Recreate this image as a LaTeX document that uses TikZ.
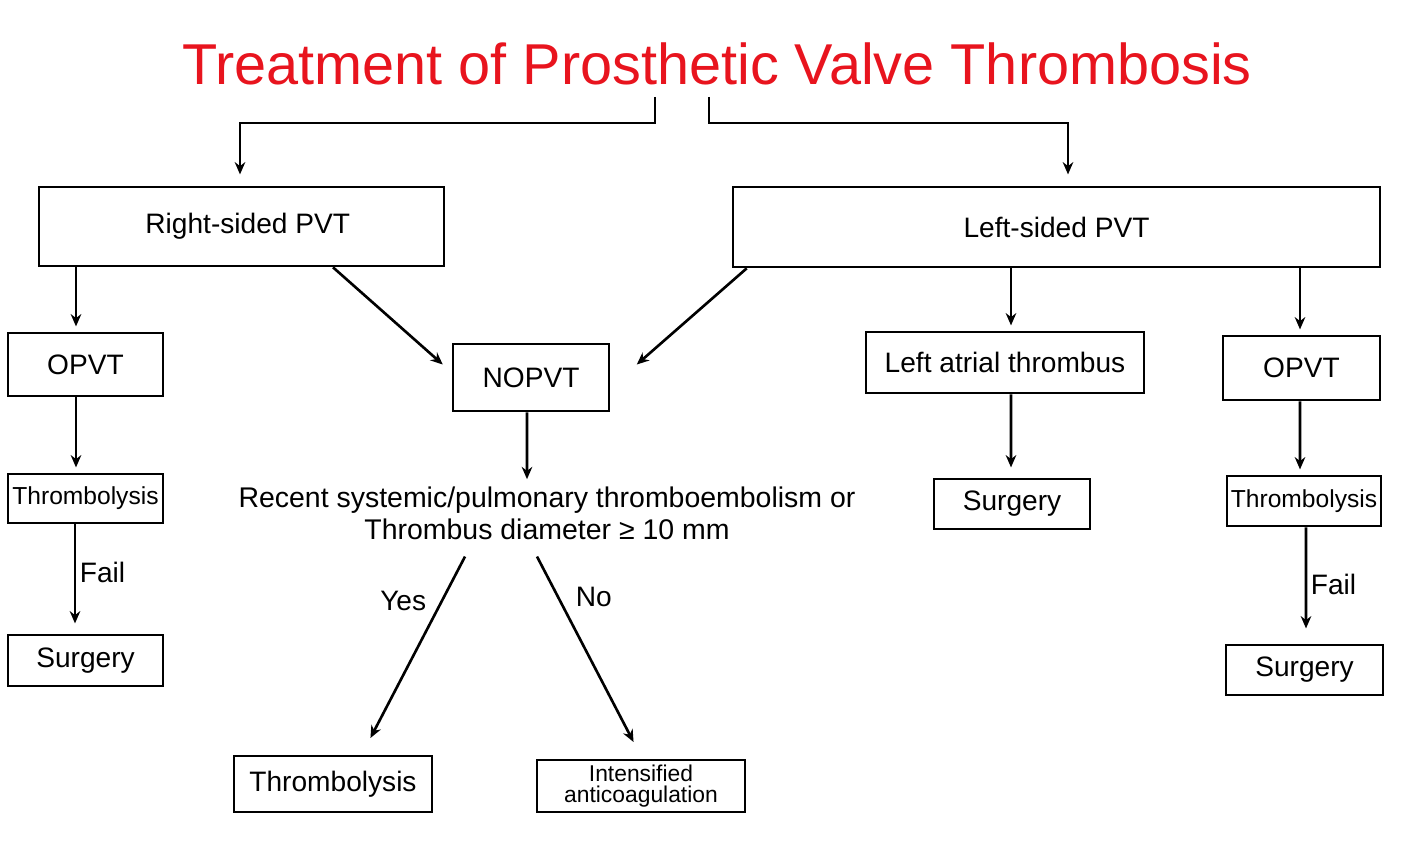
\documentclass[tikz,border=0pt]{standalone}
\usepackage{fontspec}
\setmainfont{Liberation Sans}
\usepackage{xcolor}
\definecolor{pvtred}{HTML}{E8141E}
\usetikzlibrary{arrows.meta,positioning,calc}

\begin{document}
\begin{tikzpicture}[x=0.02cm,y=-0.02cm,
  box/.style={draw,line width=1.5pt,inner sep=0pt,font=\fontsize{16}{19}\selectfont},
  smallbox/.style={box,font=\fontsize{14}{16}\selectfont},
  arr/.style={line width=1.5pt,-{Stealth[length=7pt,width=6pt]},shorten >=3pt},
  lbl/.style={inner sep=1pt,font=\fontsize{16}{19}\selectfont}]
\useasboundingbox (0,0) rectangle (1417,844);
\node[text=pvtred,font=\fontsize{32.8}{36}\selectfont] (title) at (717,64) {Treatment of Prosthetic Valve Thrombosis};
\coordinate (tl) at (655,97);
\coordinate (tr) at (709,97);
\node[box,minimum width=8.1cm,minimum height=1.58cm] (rpvt) at (241.5,226.5) {\hspace{0.25cm}Right-sided PVT};
\node[box,minimum width=12.94cm,minimum height=1.6cm] (lpvt) at (1056.5,227) {Left-sided PVT};
\node[box,minimum width=3.1cm,minimum height=1.26cm] (lopvt) at (85.5,364.5) {OPVT\hspace{0.2cm}};
\node[smallbox,minimum width=3.1cm,minimum height=0.98cm] (lthr) at (85.5,498.5) {Thrombolysis};
\node[box,minimum width=3.1cm,minimum height=1.02cm] (lsurg) at (85.5,660.5) {Surgery};
\node[box,minimum width=3.12cm,minimum height=1.34cm] (nopvt) at (531,377.5) {NOPVT};
\node[lbl,align=center,font=\fontsize{16.2}{18.2}\selectfont] (crit) at (547,513) {Recent systemic/pulmonary thromboembolism or\\Thrombus diameter ≥ 10 mm};
\node[box,minimum width=3.96cm,minimum height=1.12cm] (ythr) at (333,784) {Thrombolysis};
\node[box,minimum width=4.16cm,minimum height=1.04cm,align=center,font=\fontsize{13}{12}\selectfont] (anti) at (641,786) {Intensified\\anticoagulation};
\node[box,minimum width=5.56cm,minimum height=1.22cm] (latr) at (1005,362.5) {Left atrial thrombus};
\node[box,minimum width=3.12cm,minimum height=1cm] (msurg) at (1012,504) {Surgery};
\node[box,minimum width=3.14cm,minimum height=1.28cm] (ropvt) at (1301.5,368) {OPVT};
\node[smallbox,minimum width=3.08cm,minimum height=1cm] (rthr) at (1304,501) {Thrombolysis};
\node[box,minimum width=3.14cm,minimum height=1cm] (rsurg) at (1304.5,670) {Surgery};

\draw[arr] (tl) -- ++(0,26) -| ([xshift=-0.03cm,yshift=0.12cm]rpvt.north);
\draw[arr] (tr) -- ++(0,26) -| ([xshift=0.23cm,yshift=0.12cm]lpvt.north);
\draw[arr] ([xshift=-0.19cm]lopvt.north |- rpvt.south) -- ([xshift=-0.19cm]lopvt.north);
\draw[arr] ([xshift=-0.19cm]lopvt.south) -- ([xshift=-0.19cm]lthr.north);
\draw[arr] ([xshift=-0.21cm]lthr.south) -- node[lbl,pos=0.46,right=1pt] {Fail} ([xshift=-0.21cm,yshift=0.1cm]lsurg.north);
\draw[arr] ([xshift=1.83cm]rpvt.south) -- ([xshift=-0.1cm,yshift=0.19cm]nopvt.west);
\draw[arr] ([xshift=0.3cm]lpvt.south west) -- ([xshift=0.45cm,yshift=0.19cm]nopvt.east);
\draw[arr] ([xshift=-0.08cm]nopvt.south) -- ([xshift=-0.4cm]crit.north);
\draw[arr] ([xshift=-1.64cm,yshift=-0.3cm]crit.south) -- node[lbl,pos=0.24,left=0.25cm] {Yes} ([xshift=0.7cm,yshift=0.24cm]ythr.north);
\draw[arr] ([xshift=-0.2cm,yshift=-0.3cm]crit.south) -- node[lbl,pos=0.21,right=0.3cm] {No} ([xshift=-0.1cm,yshift=0.24cm]anti.north);
\draw[arr] ([xshift=0.12cm]latr.north |- lpvt.south) -- ([xshift=0.12cm]latr.north);
\draw[arr] ([xshift=0.12cm]latr.south) -- ([xshift=-0.02cm,yshift=0.1cm]msurg.north);
\draw[arr] ([xshift=-0.03cm]ropvt.north |- lpvt.south) -- ([xshift=-0.03cm]ropvt.north);
\draw[arr] ([xshift=-0.03cm]ropvt.south) -- ([xshift=-0.08cm]rthr.north);
\draw[arr] ([xshift=0.04cm]rthr.south) -- node[lbl,pos=0.54,right=1pt] {Fail} ([xshift=0.03cm,yshift=0.2cm]rsurg.north);
\end{tikzpicture}
\end{document}
